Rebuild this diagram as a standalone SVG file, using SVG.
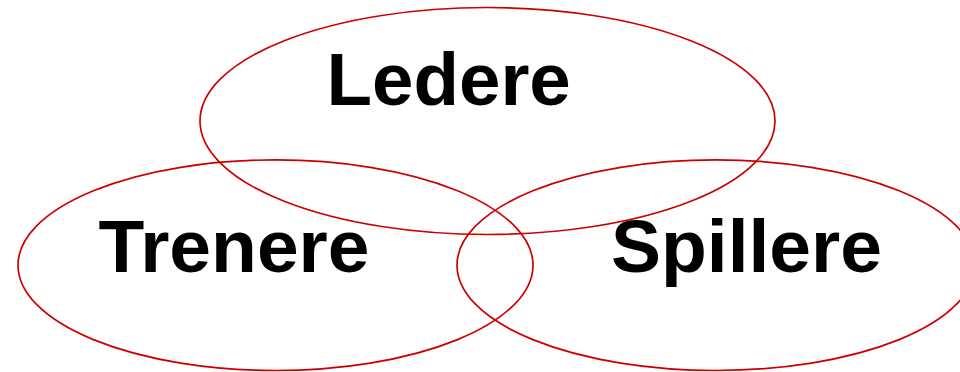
<svg xmlns="http://www.w3.org/2000/svg" width="960" height="372" viewBox="0 0 960 372">
<style>
.set{fill:none;stroke:#cc0000;stroke-width:1.7}
.lbl{font-family:"Liberation Sans",Arial,sans-serif;font-weight:bold;font-size:75px;fill:#000}
</style>
<rect width="960" height="372" fill="#fff"/>
<g id="ledere">
<ellipse class="set" cx="487.5" cy="121" rx="287.5" ry="113.5"/>
<text class="lbl" x="326.5" y="105" style="font-size:74.5px">Ledere</text>
</g>
<g id="trenere">
<ellipse class="set" cx="275.5" cy="265.2" rx="257.5" ry="105.3"/>
<text class="lbl" x="98.5" y="272">Trenere</text>
</g>
<g id="spillere">
<ellipse class="set" cx="716" cy="265.2" rx="259" ry="105.3"/>
<text class="lbl" x="611" y="272">Spillere</text>
</g>
<g id="connectors"></g>
</svg>
